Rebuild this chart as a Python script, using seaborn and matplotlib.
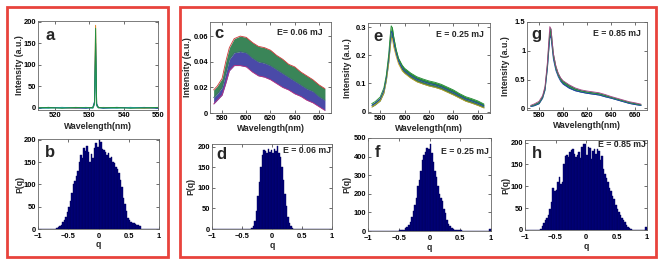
import numpy as np
import pandas as pd
import matplotlib
matplotlib.use("Agg")
import matplotlib.pyplot as plt
from matplotlib.patches import Rectangle
import seaborn as sns

# ---- panel a: pump laser line, a few shots
wl_a = [515, 518, 522, 526, 529, 531.0, 531.5, 531.8, 532.1, 532.6, 534, 538, 542, 546, 550]
a_shot1 = [1, 0, 1, -1, 1, 0, 10, 192, 6, 0, 1, 0, 1, -1, 0]
a_shot2 = [-1, 1, 0, 0, -1, 1, 15, 150, 10, 1, -1, 1, 0, 1, -1]
a_shot3 = [0, -1, 1, 0, 1, -1, 8, 120, 5, 0, 0, -1, 1, 0, 0]
a_shot4 = [0, 1, -1, 1, 0, 1, 12, 185, 8, 1, 0, 1, -1, 0, 1]

# ---- panel c: E = 0.06 mJ emission band (lower / middle / upper)
wl_c = [573, 576, 580, 583, 586, 590, 595, 600, 605, 610, 615, 620, 625, 630,
        635, 640, 645, 650, 655, 660, 665]
c_hi = [0.018, 0.021, 0.027, 0.040, 0.051, 0.058, 0.060, 0.059, 0.055, 0.052, 0.051,
        0.049, 0.045, 0.042, 0.038, 0.036, 0.032, 0.029, 0.026, 0.022, 0.019]
c_mid = [0.012, 0.015, 0.020, 0.031, 0.042, 0.047, 0.048, 0.047, 0.043, 0.040, 0.039,
         0.037, 0.034, 0.031, 0.028, 0.025, 0.022, 0.019, 0.017, 0.013, 0.010]
c_lo = [0.007, 0.010, 0.014, 0.023, 0.033, 0.037, 0.037, 0.036, 0.032, 0.029, 0.028,
        0.026, 0.023, 0.020, 0.018, 0.015, 0.013, 0.010, 0.008, 0.005, 0.002]

# ---- panel e: E = 0.25 mJ
wl_e = [573, 576, 580, 583, 585, 587, 588, 589, 590, 591, 593, 595, 598, 600, 605,
        610, 615, 620, 625, 630, 635, 640, 645, 650, 655, 660, 665]
e_hi = [0.028, 0.036, 0.052, 0.084, 0.13, 0.205, 0.262, 0.305, 0.298, 0.268, 0.222,
        0.19, 0.165, 0.154, 0.137, 0.124, 0.116, 0.109, 0.104, 0.097, 0.087, 0.077,
        0.064, 0.053, 0.046, 0.038, 0.027]
e_mid = [0.022, 0.030, 0.045, 0.075, 0.12, 0.19, 0.24, 0.285, 0.28, 0.25, 0.21, 0.18,
         0.155, 0.145, 0.128, 0.115, 0.107, 0.100, 0.095, 0.088, 0.078, 0.068, 0.056,
         0.045, 0.038, 0.030, 0.020]
e_lo = [0.016, 0.024, 0.038, 0.066, 0.11, 0.175, 0.22, 0.262, 0.26, 0.232, 0.198,
        0.17, 0.145, 0.136, 0.119, 0.106, 0.098, 0.091, 0.086, 0.079, 0.069, 0.059,
        0.048, 0.037, 0.030, 0.022, 0.013]

# ---- panel g: E = 0.85 mJ
wl_g = [573, 576, 580, 583, 585, 587, 588, 589, 590, 591, 592, 594, 596, 598, 600,
        605, 610, 615, 620, 625, 630, 635, 640, 645, 650, 655, 660, 665]
g_hi = [0.05, 0.075, 0.12, 0.22, 0.38, 0.8, 1.12, 1.42, 1.38, 1.16, 0.95, 0.74, 0.61,
        0.53, 0.48, 0.41, 0.355, 0.32, 0.30, 0.285, 0.27, 0.24, 0.205, 0.175, 0.145,
        0.115, 0.095, 0.072]
g_mid = [0.04, 0.06, 0.10, 0.2, 0.35, 0.75, 1.05, 1.33, 1.30, 1.1, 0.9, 0.7, 0.58,
         0.5, 0.45, 0.38, 0.33, 0.30, 0.28, 0.265, 0.25, 0.22, 0.19, 0.16, 0.13, 0.10,
         0.08, 0.06]
g_lo = [0.03, 0.045, 0.08, 0.18, 0.32, 0.7, 0.98, 1.25, 1.22, 1.04, 0.85, 0.66, 0.55,
        0.47, 0.42, 0.35, 0.305, 0.28, 0.26, 0.245, 0.23, 0.20, 0.175, 0.145, 0.115,
        0.085, 0.065, 0.048]

# ---- histograms P(q), 80 bins over [-1, 1]
q_edges = np.linspace(-1, 1, 81)
q_centers = (q_edges[:-1] + q_edges[1:]) / 2

b_counts = [0] * 10 + [
    0, 1, 2, 4, 7, 10, 15, 20, 28, 38, 50, 62, 80, 100, 108, 120, 130, 150, 165, 160,
    182, 175, 186, 172, 150, 168, 160, 182, 192, 185, 200, 195, 180, 178, 172, 165, 170,
    160, 162, 150, 148, 140, 135, 125, 110, 95, 70, 55, 40, 25, 20, 16, 14, 14, 12, 10,
    8, 6, 1, 0] + [0] * 10
d_counts = [0] * 25 + [
    1, 3, 8, 20, 45, 80, 115, 150, 180, 193, 190, 185, 195, 188, 192, 185, 195, 190,
    203, 185, 175, 150, 120, 85, 55, 30, 15, 7, 3, 1] + [0] * 25
f_counts = [0] * 19 + [
    2, 3, 4, 5, 8, 15, 22, 32, 50, 75, 105, 140, 175, 240, 275, 320, 380, 410, 425,
    445, 440, 470, 420, 370, 320, 290, 240, 200, 180, 160, 120, 95, 60, 40, 28, 18, 12,
    8, 6, 4, 3, 3, 2, 1, 1] + [0] * 15 + [10]
h_counts = [0] * 10 + [
    3, 10, 15, 22, 28, 35, 48, 65, 95, 90, 92, 110, 122, 105, 110, 150, 170, 172, 168,
    178, 182, 186, 175, 168, 172, 178, 165, 190, 197, 196, 172, 190, 188, 162, 180, 186,
    175, 185, 180, 160, 170, 140, 128, 120, 110, 95, 90, 78, 70, 58, 48, 42, 35, 28, 22,
    18, 12, 8, 4, 2] + [1, 1, 0, 0, 0, 0, 0, 0, 0, 8]

sns.set_style("ticks")
plt.rcParams['font.family'] = ['Liberation Sans', 'DejaVu Sans']
plt.rcParams['font.weight'] = 'bold'

W, H = 665, 268
fig = plt.figure(figsize=(W / 100, H / 100), dpi=100)


def make_ax(l, r, t, b):
    return fig.add_axes([l / W, (H - b) / H, (r - l) / W, (b - t) / H])


def style(ax, ylab, xlab, ylx, xly, xpad=1.6):
    ax.tick_params(direction='in', length=2.5, width=0.5, top=True, right=True,
                   labelsize=5.4, colors='#333333', labelcolor='black')
    ax.tick_params(axis='x', pad=xpad)
    ax.tick_params(axis='y', pad=1.2)
    for lab in ax.get_xticklabels() + ax.get_yticklabels():
        lab.set_fontweight('bold')
    for s in ax.spines.values():
        s.set_color('#666666')
        s.set_linewidth(0.6)
    ax.set_ylabel(ylab, fontsize=6.3, fontweight='bold')
    ax.set_xlabel(xlab, fontsize=6.3, fontweight='bold')
    ax.yaxis.set_label_coords(ylx, 0.5)
    ax.xaxis.set_label_coords(0.5, xly)
    ax.yaxis.label.set_va('center')
    ax.xaxis.label.set_va('center')


def letter(ax, s, x, y):
    ax.text(x, y, s, transform=ax.transAxes, fontsize=12, fontweight='bold',
            ha='left', va='center')


def energy(ax, s, x, y):
    ax.text(x, y, s, transform=ax.transAxes, fontsize=6.3, fontweight='bold',
            ha='right', va='center')


def band(ax, wl, lo, mid, hi, fills, lines):
    ax.fill_between(wl, lo, mid, color=fills[0], lw=0)
    ax.fill_between(wl, mid, hi, color=fills[1], lw=0)
    for y, c in zip([lo, mid, hi], lines):
        sns.lineplot(x=wl, y=y, ax=ax, color=c, lw=0.6)


# a
ax = make_ax(38, 158, 21, 110)
for y, c in zip([a_shot1, a_shot2, a_shot3, a_shot4],
                ['#e08020', '#2030c0', '#20a0a0', '#209040']):
    sns.lineplot(x=wl_a, y=y, ax=ax, color=c, lw=0.7)
ax.set_xlim(515, 550)
ax.set_ylim(-5, 202)
ax.set_xticks([520, 530, 540, 550])
ax.set_yticks([0, 50, 100, 150, 200])
style(ax, 'Intensity (a.u.)', 'Wavelength(nm)', -0.15, -0.18)
letter(ax, 'a', 0.06, 0.84)

# c
ax = make_ax(210, 331, 22, 113)
band(ax, wl_c, c_lo, c_mid, c_hi, ['#4a4aa8', '#3a8558'],
     ['#c03080', '#3a6a70', '#d03838'])
ax.set_xlim(570, 670)
ax.set_ylim(0, 0.071)
ax.set_xticks([580, 600, 620, 640, 660])
ax.set_yticks([0, 0.02, 0.04, 0.06], labels=['0', '0.02', '0.04', '0.06'])
style(ax, 'Intensity (a.u.)', 'Wavelength(nm)', -0.185, -0.17)
letter(ax, 'c', 0.04, 0.87)
energy(ax, 'E= 0.06 mJ', 0.93, 0.88)

# e
ax = make_ax(368, 490, 23, 113)
band(ax, wl_e, e_lo, e_mid, e_hi, ['#3a7a50', '#2a8a3a'],
     ['#c0a020', '#2040b0', '#208a30'])
ax.set_xlim(570, 670)
ax.set_ylim(-0.005, 0.315)
ax.set_xticks([580, 600, 620, 640, 660])
ax.set_yticks([0, 0.1, 0.2, 0.3], labels=['0', '0.1', '0.2', '0.3'])
style(ax, 'Intensity (a.u.)', 'Wavelength(nm)', -0.165, -0.175)
letter(ax, 'e', 0.04, 0.85)
energy(ax, 'E = 0.25 mJ', 0.95, 0.87)

# g
ax = make_ax(527, 647, 22, 110)
band(ax, wl_g, g_lo, g_mid, g_hi, ['#2a6a60', '#2a7a50'],
     ['#2040b0', '#208a40', '#a04080'])
ax.set_xlim(570, 670)
ax.set_ylim(-0.03, 1.5)
ax.set_xticks([580, 600, 620, 640, 660])
ax.set_yticks([0, 0.5, 1, 1.5], labels=['0', '0.5', '1', '1.5'])
style(ax, 'Intensity (a.u.)', 'Wavelength(nm)', -0.18, -0.18)
letter(ax, 'g', 0.04, 0.86)
energy(ax, 'E = 0.85 mJ', 0.95, 0.87)

# histograms
hists = [
    (b_counts, (38, 159, 139, 229), 202, [0, 50, 100, 150, 200], 'b', (0.058, 0.845), None, -0.15, -0.175),
    (d_counts, (212, 332, 144, 229), 207, [0, 50, 100, 150, 200], 'd', (0.04, 0.88), ('E = 0.06 mJ', 0.99, 0.92), -0.18, -0.2),
    (f_counts, (368, 491, 138, 231), 500, [0, 100, 200, 300, 400, 500], 'f', (0.055, 0.84), ('E = 0.25 mJ', 0.98, 0.85), -0.17, -0.175),
    (h_counts, (525, 647, 140, 230), 206, [0, 50, 100, 150, 200], 'h', (0.06, 0.845), ('E = 0.85 mJ', 0.99, 0.945), -0.16, -0.18),
]
for counts, box, ytop, yt, let, lpos, etext, ylx, xly in hists:
    ax = make_ax(*box)
    hd = pd.DataFrame({'q': q_centers, 'n': counts})
    sns.histplot(data=hd, x='q', weights='n', bins=q_edges.tolist(), ax=ax,
                 color='#00007c', edgecolor='#000058', linewidth=0.3, alpha=1)
    ax.set_xlim(-1, 1)
    ax.set_ylim(0, ytop)
    ax.set_xticks([-1, -0.5, 0, 0.5, 1], labels=['\u22121', '\u22120.5', '0', '0.5', '1'])
    ax.set_yticks(yt)
    style(ax, 'P(q)', 'q', ylx, xly, xpad=2.9)
    letter(ax, let, *lpos)
    if etext:
        energy(ax, *etext)

# red frames around the two groups
for x0, x1 in [(7, 168), (180, 656)]:
    fig.patches.append(Rectangle((x0 / W, (H - 257) / H), (x1 - x0) / W, 250 / H,
                                 transform=fig.transFigure, fill=False,
                                 edgecolor='#e8433c', lw=2))

fig.savefig('out.png', dpi=100)
